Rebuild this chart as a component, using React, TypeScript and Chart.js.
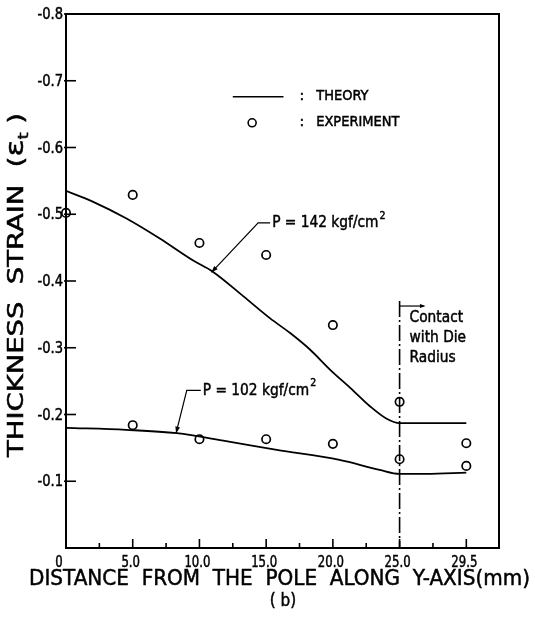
import React, { useEffect, useRef } from "react";
import { Chart, registerables } from "chart.js";

Chart.register(...registerables);

// ---- data ----
// x axis: the tick labelled "29.5" sits at axis position 30 in the figure
const xTickValues = [0, 5, 10, 15, 20, 25, 30];
const xTickLabels = ["0", "5.0", "10.0", "15.0", "20.0", "25.0", "29.5"];
const xMinorTicks = [2.5, 7.5, 12.5, 17.5, 22.5, 27.5];
const yTickValues = [-0.8, -0.7, -0.6, -0.5, -0.4, -0.3, -0.2, -0.1];
const yTickLabels = ["-0.8", "-0.7", "-0.6", "-0.5", "-0.4", "-0.3", "-0.2", "-0.1"];

// theory, P = 142 kgf/cm2
const theory142X = [0, 2, 4.5, 7, 9.5, 11, 13.3, 15.3, 16.8, 18.3, 19.8, 21.3, 22.8, 24, 25, 30];
const theory142Y = [-0.535, -0.519, -0.494, -0.464, -0.431, -0.414, -0.377, -0.344, -0.322, -0.297, -0.267, -0.24, -0.212, -0.194, -0.187, -0.187];
// theory, P = 102 kgf/cm2
const theory102X = [0, 4.5, 8.3, 12, 15.8, 20.5, 23.5, 25, 27, 30];
const theory102Y = [-0.18, -0.177, -0.172, -0.16, -0.147, -0.132, -0.117, -0.111, -0.111, -0.113];
// experiment
const exp142X = [0, 5, 10, 15, 20, 25, 30];
const exp142Y = [-0.502, -0.529, -0.457, -0.439, -0.334, -0.219, -0.157];
const exp102X = [5, 10, 15, 20, 25, 30];
const exp102Y = [-0.184, -0.163, -0.163, -0.156, -0.133, -0.123];

const contactX = 25;
const contactTopY = -0.37;

const FONT = '"DejaVu Sans", sans-serif';

const zip = (xs: number[], ys: number[]) => xs.map((x, i) => ({ x, y: ys[i] }));

function arrowHead(ctx: CanvasRenderingContext2D, fx: number, fy: number, tx: number, ty: number, size = 7) {
  const a = Math.atan2(ty - fy, tx - fx);
  ctx.beginPath();
  ctx.moveTo(tx, ty);
  ctx.lineTo(tx - size * Math.cos(a - 0.35), ty - size * Math.sin(a - 0.35));
  ctx.lineTo(tx - size * Math.cos(a + 0.35), ty - size * Math.sin(a + 0.35));
  ctx.closePath();
  ctx.fill();
}

// draw text with horizontal compression (narrow technical lettering), slightly thickened
function txt(
  ctx: CanvasRenderingContext2D,
  s: string,
  x: number,
  y: number,
  size: number,
  sx: number,
  align: CanvasTextAlign = "left",
  baseline: CanvasTextBaseline = "middle"
) {
  ctx.save();
  ctx.font = `${size}px ${FONT}`;
  ctx.textAlign = align;
  ctx.textBaseline = baseline;
  ctx.translate(x, y);
  ctx.scale(sx, 1);
  ctx.fillText(s, 0, 0);
  ctx.lineWidth = 0.5;
  ctx.strokeText(s, 0, 0);
  const w = ctx.measureText(s).width * sx;
  ctx.restore();
  return w;
}

const decorPlugin = {
  id: "decor",
  afterDraw(chart: any) {
    const { ctx, chartArea: ca } = chart;
    const x = chart.scales.x;
    const y = chart.scales.y;
    const px = (v: number) => x.getPixelForValue(v);
    const py = (v: number) => y.getPixelForValue(v);
    ctx.save();
    ctx.strokeStyle = "#000";
    ctx.fillStyle = "#000";
    ctx.lineCap = "butt";

    // frame
    ctx.lineWidth = 2;
    ctx.strokeRect(ca.left, ca.top, ca.right - ca.left, ca.bottom - ca.top);

    // y ticks (inward) + labels
    ctx.lineWidth = 1.6;
    yTickValues.forEach((v, i) => {
      const yy = py(v);
      ctx.lineWidth = 1.6;
      ctx.beginPath();
      ctx.moveTo(ca.left - 2, yy);
      ctx.lineTo(ca.left + 10, yy);
      ctx.stroke();
      txt(ctx, yTickLabels[i], ca.left - 3, yy + 1, 16, 0.82, "right", "middle");
    });
    // x ticks (inward) + labels
    xTickValues.forEach((v, i) => {
      const xx = px(v);
      ctx.lineWidth = 1.6;
      ctx.beginPath();
      ctx.moveTo(xx, ca.bottom);
      ctx.lineTo(xx, ca.bottom - 9);
      ctx.stroke();
      txt(ctx, xTickLabels[i], xx - (i === 0 ? 7 : 2), ca.bottom + 19, 15, 0.78, "center", "alphabetic");
    });
    xMinorTicks.forEach((v) => {
      const xx = px(v);
      ctx.lineWidth = 1.6;
      ctx.beginPath();
      ctx.moveTo(xx, ca.bottom);
      ctx.lineTo(xx, ca.bottom - 5);
      ctx.stroke();
    });

    // contact line (dash-dot)
    const cx = px(contactX);
    const cTop = py(contactTopY);
    ctx.lineWidth = 1.6;
    ctx.setLineDash([16, 3, 2, 3]);
    ctx.beginPath();
    ctx.moveTo(cx, cTop);
    ctx.lineTo(cx, ca.bottom);
    ctx.stroke();
    ctx.setLineDash([]);
    // arrow to the right
    ctx.lineWidth = 1.2;
    ctx.beginPath();
    ctx.moveTo(cx, cTop + 5);
    ctx.lineTo(cx + 24, cTop + 5);
    ctx.stroke();
    arrowHead(ctx, cx, cTop + 5, cx + 26, cTop + 5, 6);

    txt(ctx, "Contact", cx + 10, cTop + 17, 16, 0.86);
    txt(ctx, "with Die", cx + 10, cTop + 37, 16, 0.86);
    txt(ctx, "Radius", cx + 10, cTop + 57, 16, 0.86);

    // legend
    ctx.lineWidth = 1.6;
    const lgY1 = py(-0.676);
    const lgY2 = py(-0.637);
    ctx.beginPath();
    ctx.moveTo(px(12.5), lgY1);
    ctx.lineTo(px(16.3), lgY1);
    ctx.stroke();
    ctx.beginPath();
    ctx.arc(px(13.95), lgY2, 4, 0, Math.PI * 2);
    ctx.stroke();
    txt(ctx, ":", px(17.5), lgY1, 14, 1);
    txt(ctx, "THEORY", px(18.75), lgY1, 14, 0.93);
    txt(ctx, ":", px(17.5), lgY2, 14, 1);
    txt(ctx, "EXPERIMENT", px(18.75), lgY2, 14, 0.93);

    // pressure annotations
    const drawLabel = (tip: [number, number], knee: [number, number], textX: number, main: string) => {
      const tx = px(tip[0]), ty = py(tip[1]);
      const kx = px(knee[0]), ky = py(knee[1]);
      const lx = px(textX);
      ctx.lineWidth = 1.2;
      ctx.beginPath();
      ctx.moveTo(lx - 2, ky);
      ctx.lineTo(kx, ky);
      ctx.lineTo(tx, ty);
      ctx.stroke();
      arrowHead(ctx, kx, ky, tx, ty, 7);
      const w = txt(ctx, main, lx, ky, 16, 0.86);
      txt(ctx, "2", lx + w + 1, ky - 7, 11, 0.86);
    };
    drawLabel([10.9, -0.413], [14.4, -0.487], 15.45, "P = 142 kgf/cm");
    drawLabel([8.25, -0.172], [9.05, -0.236], 10.25, "P = 102 kgf/cm");

    // x-axis title, fitted to the span it covers in the figure
    {
      const s = "DISTANCE  FROM  THE  POLE  ALONG  Y-AXIS(mm)";
      ctx.font = `21px ${FONT}`;
      const nat = ctx.measureText(s).width;
      const left = 29, right = 530;
      txt(ctx, s, left, 585, 21, (right - left) / nat, "left", "alphabetic");
      txt(ctx, "( b)", 283, 606, 18, 0.85, "center", "alphabetic");
    }

    // y-axis title (rotated), fitted to its span
    {
      ctx.save();
      ctx.translate(23, 285);
      ctx.rotate(-Math.PI / 2);
      const parts: [string, number, number][] = [
        ["THICKNESS  STRAIN  (", 21, 0],
        ["ε", 24, 0],
        ["t", 14, 5],
        [" )", 21, 0],
      ];
      let nat = 0;
      parts.forEach(([s, sz]) => {
        ctx.font = `${sz}px ${FONT}`;
        nat += ctx.measureText(s).width;
      });
      const target = 344;
      const sx = target / nat;
      let pos = -target / 2;
      parts.forEach(([s, sz, dy]) => {
        pos += txt(ctx, s, pos, dy, sz, sx, "left", "alphabetic");
      });
      ctx.restore();
    }

    ctx.restore();
  },
};

export default function App() {
  const ref = useRef<HTMLCanvasElement | null>(null);
  useEffect(() => {
    if (!ref.current) return;
    const lineStyle = {
      showLine: true,
      borderColor: "#000",
      borderWidth: 1.8,
      pointRadius: 0,
      cubicInterpolationMode: "monotone" as const,
      fill: false,
    };
    const pointStyle = {
      showLine: false,
      borderColor: "#000",
      backgroundColor: "rgba(255,255,255,0)",
      borderWidth: 1.7,
      pointRadius: 4.2,
      pointStyle: "circle",
      clip: false as any,
    };
    const chart = new Chart(ref.current, {
      type: "scatter",
      data: {
        datasets: [
          { label: "Theory 142", data: zip(theory142X, theory142Y), ...lineStyle },
          { label: "Theory 102", data: zip(theory102X, theory102Y), ...lineStyle },
          { label: "Experiment 142", data: zip(exp142X, exp142Y), ...pointStyle },
          { label: "Experiment 102", data: zip(exp102X, exp102Y), ...pointStyle },
        ],
      },
      options: {
        animation: false,
        responsive: false,
        maintainAspectRatio: false,
        layout: { padding: { left: 0, top: 14, right: 36, bottom: 33 } },
        plugins: { legend: { display: false }, tooltip: { enabled: false } },
        scales: {
          x: {
            type: "linear",
            min: 0,
            max: 32.45,
            grid: { display: false, drawTicks: false },
            border: { display: false },
            ticks: { display: false },
            afterFit: (scale: any) => {
              scale.height = 40;
            },
          },
          y: {
            type: "linear",
            min: -0.8,
            max: 0,
            reverse: true,
            grid: { display: false, drawTicks: false },
            border: { display: false },
            ticks: { display: false },
            afterFit: (scale: any) => {
              scale.width = 66;
            },
          },
        },
      },
      plugins: [decorPlugin],
    });
    return () => chart.destroy();
  }, []);

  return (
    <div style={{ position: "absolute", left: 0, top: 0, width: 535, height: 621, background: "#fff" }}>
      <canvas ref={ref} width={535} height={621} style={{ display: "block" }} />
    </div>
  );
}
